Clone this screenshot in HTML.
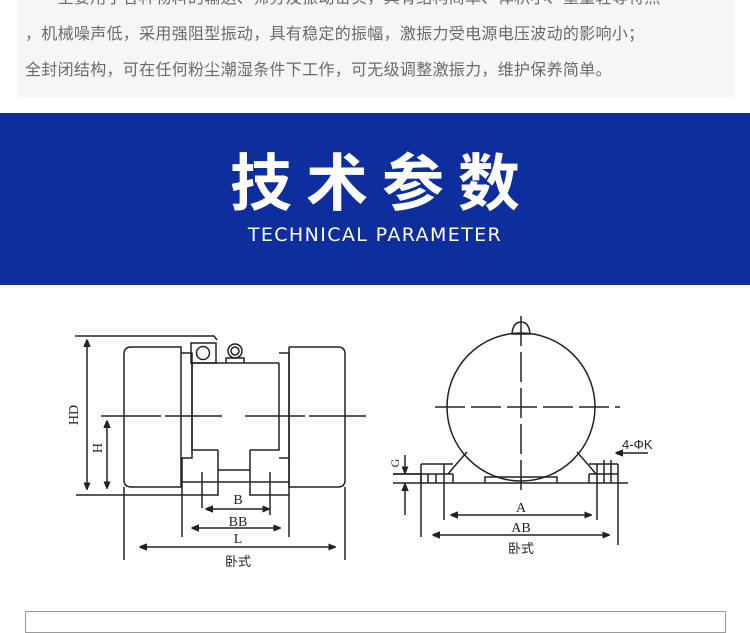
<!DOCTYPE html>
<html><head><meta charset="utf-8"><style>
body{margin:0;width:750px;height:622px;overflow:hidden;background:#fff;position:relative;font-family:"Liberation Sans","Noto Sans CJK SC",sans-serif}
.top{position:absolute;left:17px;top:0;width:718px;height:97px;background:#f6f6f6}
.t{position:absolute;left:25px;font-size:16px;color:#6a6a6a;white-space:nowrap;letter-spacing:0.3px}
.band{position:absolute;left:0;top:113px;width:750px;height:172px;background:#0d2e9c}
.h1{position:absolute;left:0;width:750px;top:140px;text-align:center;color:#fff;font-size:62px;font-weight:bold;letter-spacing:14px;text-indent:14px;font-family:"Noto Sans CJK SC",sans-serif;line-height:76px}
.h2{position:absolute;left:0;width:750px;top:224px;text-align:center;color:#fff;font-size:19px;letter-spacing:1.4px;font-family:"DejaVu Sans",sans-serif}
.box{position:absolute;left:25px;top:611px;width:699px;height:20px;border:1px solid #999}
</style></head><body>
<div class="top"></div>
<div class="t" style="top:-16px">　　主要用于各种物料的输送、筛分及振动密实，具有结构简单、体积小、重量轻等特点</div>
<div class="t" style="top:20px">，机械噪声低，采用强阻型振动，具有稳定的振幅，激振力受电源电压波动的影响小；</div>
<div class="t" style="top:56px">全封闭结构，可在任何粉尘潮湿条件下工作，可无级调整激振力，维护保养简单。</div>
<div class="band"></div>
<div class="h1">技术参数</div>
<div class="h2">TECHNICAL PARAMETER</div>
<svg width="750" height="622" style="position:absolute;left:0;top:0" fill="none" stroke="#222" stroke-width="1.5" font-family="Liberation Serif,serif">
<defs><marker id="a" viewBox="0 0 10 10" refX="9" refY="5" markerWidth="5" markerHeight="5" orient="auto-start-reverse"><path d="M0,1L10,5L0,9z" fill="#222"/></marker></defs>
<path d="M75,336H214L217,340"/>
<line x1="87" y1="340" x2="87" y2="489" marker-start="url(#a)" marker-end="url(#a)"/>
<path d="M131,347H181V487H131Q124,487 124,480V354Q124,347 131,347Z"/>
<path d="M181,353H192V458H181"/>
<path d="M192,363H279M192,363V450H218M250,450H279V363"/>
<path d="M279,353H289V458H279"/>
<path d="M289,347H338Q345,347 345,354V480Q345,487 338,487H289V347"/>
<rect x="191" y="343" width="25" height="20"/><circle cx="203" cy="353" r="6.5"/>
<circle cx="235" cy="351" r="7"/><circle cx="235" cy="351" r="4"/><path d="M226,363V358H244V363"/>
<path d="M101,416H222M245,416H366" stroke-dasharray="60 4"/>
<line x1="107" y1="421" x2="107" y2="488" marker-start="url(#a)" marker-end="url(#a)"/>
<path d="M76,495H182"/>
<path d="M218,450V480M250,450V480M218,470H250M182,482H289M182,495H218V480M250,480V495H289"/>
<path d="M124,487V560M345,487V560M182,458V537M289,458V537M202,472V508M270,472V515"/>
<line x1="206" y1="509" x2="269" y2="509" marker-start="url(#a)" marker-end="url(#a)"/>
<line x1="192" y1="528" x2="280" y2="528" marker-start="url(#a)" marker-end="url(#a)"/>
<line x1="140" y1="547" x2="335" y2="547" marker-start="url(#a)" marker-end="url(#a)"/>
<g fill="#222" stroke="none" font-size="14" text-anchor="middle">
<text x="238" y="504">B</text><text x="238" y="526">BB</text><text x="238" y="543">L</text>
<text x="238" y="566" font-family="Noto Sans CJK SC,sans-serif" font-size="13">卧式</text>
<text transform="translate(78,415) rotate(-90)">HD</text>
<text transform="translate(102,448) rotate(-90)">H</text>
<text transform="translate(399,463) rotate(-90)" font-size="12">G</text>
<text x="622" y="449" text-anchor="start" font-family="Liberation Sans,sans-serif" font-size="13">4-ΦK</text>
<text x="521" y="512">A</text><text x="521" y="532">AB</text>
<text x="521" y="553" font-family="Noto Sans CJK SC,sans-serif" font-size="13">卧式</text>
</g>
<circle cx="521" cy="407" r="74"/>
<path d="M512,334Q513,322 521,322Q529,322 530,334Z"/>
<path d="M435,407H620M521,316V492" stroke-dasharray="30 6"/>
<path d="M393,483H628M393,474H453M589,474H618M453,474V483M589,474V483M485,483V477H557V483"/>
<path d="M421,464H453M589,464H618M421,464V483M618,464V483"/>
<path d="M448,474Q458,462 467,452M596,474Q586,462 577,452"/>
<path d="M421,474V537M444,464V520M597,464V520M618,483V545M428,474V483M436,474V483M604,460V483M611,460V483"/>
<line x1="405" y1="455" x2="405" y2="473" marker-end="url(#a)"/>
<line x1="405" y1="515" x2="405" y2="484" marker-end="url(#a)"/>
<path d="M393,474H421"/>
<line x1="648" y1="453" x2="616" y2="453" marker-end="url(#a)"/>
<line x1="451" y1="515" x2="591" y2="515" marker-start="url(#a)" marker-end="url(#a)"/>
<line x1="433" y1="535" x2="609" y2="535" marker-start="url(#a)" marker-end="url(#a)"/>
</svg>
<div class="box"></div>
</body></html>
